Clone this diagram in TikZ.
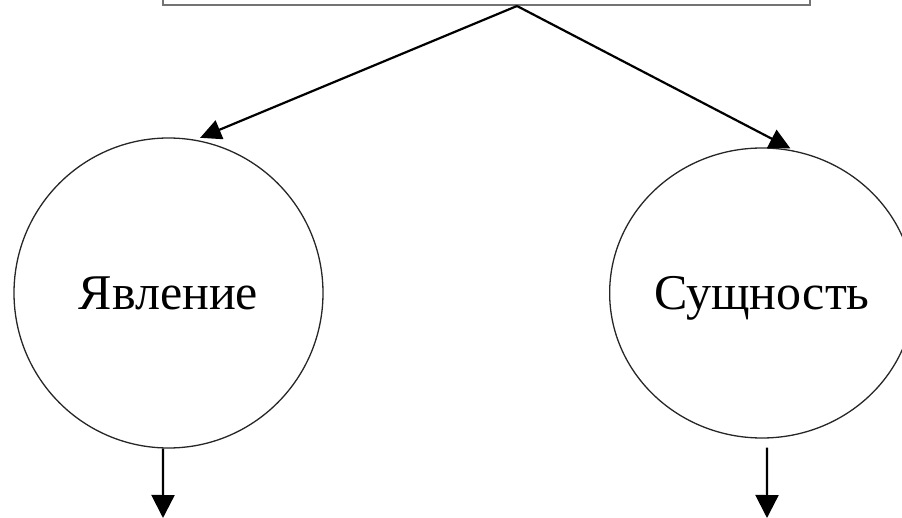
\documentclass[tikz,border=0pt]{standalone}
\usepackage{fontspec}
\setmainfont{Liberation Serif}
\usetikzlibrary{arrows.meta,shapes.geometric}
\tikzset{
  topbox/.style={draw=black!55, line width=2.5pt, rectangle, inner sep=0pt},
  bubble/.style={draw=black!85, line width=1.3pt, ellipse, inner sep=0pt,
     font=\fontsize{50}{60}\selectfont, text height=33pt, text depth=0pt},
  conn/.style={line width=2.2pt, -{Triangle[length=21pt,width=20pt]}},
  downconn/.style={line width=2.2pt, -{Triangle[length=23pt,width=23pt]}}
}
\begin{document}
\begin{tikzpicture}[x=1pt,y=-1pt]
\useasboundingbox (0,0) rectangle (902,518);
\clip (0,0) rectangle (902,518);
\node[topbox, minimum width=647pt, minimum height=40pt] (top) at (486.5,-15) {};
\coordinate (apex) at (517,6);
\node[bubble, minimum width=309pt, minimum height=310pt] (L) at (168.5,293) {Явление};
\node[bubble, minimum width=278pt, minimum height=290pt] (R) at (762,293) {Сущность};
\coordinate (Lend) at (163,518);
\coordinate (Rend) at (767,518);
\draw[conn, shorten >=5pt] (apex) -- (L.80);
\draw[conn, shorten >=5pt] (apex) -- (R.77);
\draw[downconn] (L.268) -- (Lend);
\draw[downconn, shorten <=9pt] (R.272) -- (Rend);
\end{tikzpicture}
\end{document}
